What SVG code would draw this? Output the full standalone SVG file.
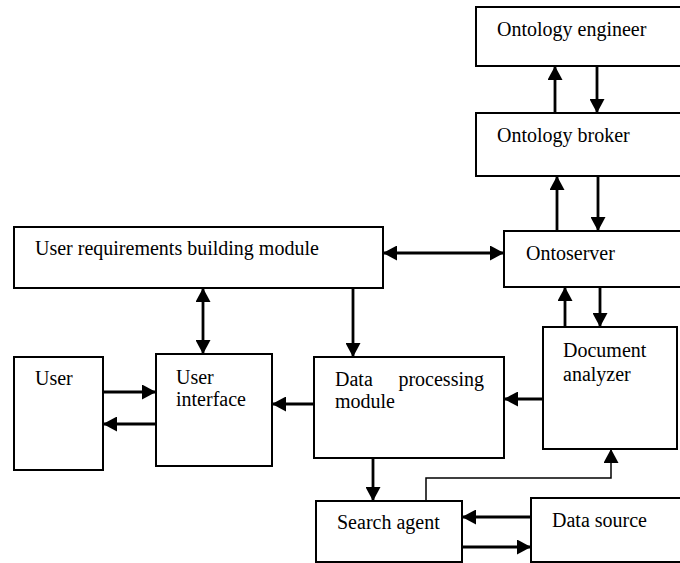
<svg xmlns="http://www.w3.org/2000/svg" width="680" height="563" viewBox="0 0 680 563">
  <defs>
    <marker id="arrow" viewBox="0 0 14 15" refX="14" refY="7.5" markerWidth="14" markerHeight="15" markerUnits="userSpaceOnUse" orient="auto-start-reverse">
      <path d="M0,0 L14,7.5 L0,15 Z" fill="#000"/>
    </marker>
    <style>
      .box { fill: #fff; stroke: #000; stroke-width: 2; }
      .label { font-family: 'Liberation Serif', 'DejaVu Serif', serif; font-size: 20px; fill: #000; }
      .conn { fill: none; stroke: #000; stroke-width: 2.8; }
      .thin { fill: none; stroke: #000; stroke-width: 1.5; }
    </style>
  </defs>
  <rect width="680" height="563" fill="#fff"/>

  <g id="ontology-engineer">
    <rect class="box" x="476" y="7" width="220" height="59"/>
    <text class="label" x="497" y="36">Ontology engineer</text>
  </g>
  <g id="ontology-broker">
    <rect class="box" x="476" y="113" width="220" height="63"/>
    <text class="label" x="497" y="142">Ontology broker</text>
  </g>
  <g id="ontoserver">
    <rect class="box" x="504" y="231" width="190" height="56"/>
    <text class="label" x="526" y="260">Ontoserver</text>
  </g>
  <g id="user-requirements">
    <rect class="box" x="14" y="227" width="369" height="61"/>
    <text class="label" x="35" y="255">User requirements building module</text>
  </g>
  <g id="user">
    <rect class="box" x="14" y="357" width="89" height="113"/>
    <text class="label" x="35" y="385">User</text>
  </g>
  <g id="user-interface">
    <rect class="box" x="156" y="354" width="116" height="112"/>
    <text class="label" x="176" y="384">User</text>
    <text class="label" x="176" y="406">interface</text>
  </g>
  <g id="data-processing">
    <rect class="box" x="314" y="357" width="190" height="101"/>
    <text class="label" x="335" y="386">Data</text>
    <text class="label" x="484" y="386" text-anchor="end">processing</text>
    <text class="label" x="335" y="408">module</text>
  </g>
  <g id="document-analyzer">
    <rect class="box" x="543" y="327" width="134" height="122"/>
    <text class="label" x="563" y="357">Document</text>
    <text class="label" x="563" y="381">analyzer</text>
  </g>
  <g id="search-agent">
    <rect class="box" x="316" y="501" width="146" height="61"/>
    <text class="label" x="337" y="529">Search agent</text>
  </g>
  <g id="data-source">
    <rect class="box" x="531" y="498" width="165" height="64"/>
    <text class="label" x="552" y="527">Data source</text>
  </g>

  <g id="connectors">
    <!-- engineer / broker -->
    <line class="conn" x1="555" y1="113" x2="555" y2="66" marker-end="url(#arrow)"/>
    <line class="conn" x1="597" y1="66" x2="597" y2="113" marker-end="url(#arrow)"/>
    <!-- broker / ontoserver -->
    <line class="conn" x1="557" y1="231" x2="557" y2="176" marker-end="url(#arrow)"/>
    <line class="conn" x1="598" y1="176" x2="598" y2="231" marker-end="url(#arrow)"/>
    <!-- requirements module <-> ontoserver -->
    <line class="conn" x1="383" y1="253" x2="504" y2="253" marker-start="url(#arrow)" marker-end="url(#arrow)"/>
    <!-- requirements module <-> user interface -->
    <line class="conn" x1="203" y1="288" x2="203" y2="354" marker-start="url(#arrow)" marker-end="url(#arrow)"/>
    <!-- requirements module -> data processing -->
    <line class="conn" x1="353" y1="288" x2="353" y2="357" marker-end="url(#arrow)"/>
    <!-- ontoserver / document analyzer -->
    <line class="conn" x1="565" y1="327" x2="565" y2="287" marker-end="url(#arrow)"/>
    <line class="conn" x1="600" y1="287" x2="600" y2="327" marker-end="url(#arrow)"/>
    <!-- document analyzer -> data processing -->
    <line class="conn" x1="543" y1="399" x2="504" y2="399" marker-end="url(#arrow)"/>
    <!-- data processing -> user interface -->
    <line class="conn" x1="314" y1="404" x2="272" y2="404" marker-end="url(#arrow)"/>
    <!-- user / user interface -->
    <line class="conn" x1="103" y1="392" x2="156" y2="392" marker-end="url(#arrow)"/>
    <line class="conn" x1="156" y1="424" x2="103" y2="424" marker-end="url(#arrow)"/>
    <!-- data processing -> search agent -->
    <line class="conn" x1="373" y1="458" x2="373" y2="501" marker-end="url(#arrow)"/>
    <!-- search agent -> document analyzer -->
    <polyline class="thin" points="426,501 426,478 611,478 611,449" marker-end="url(#arrow)"/>
    <!-- search agent / data source -->
    <line class="conn" x1="531" y1="517" x2="462" y2="517" marker-end="url(#arrow)"/>
    <line class="conn" x1="462" y1="547" x2="531" y2="547" marker-end="url(#arrow)"/>
  </g>
</svg>
